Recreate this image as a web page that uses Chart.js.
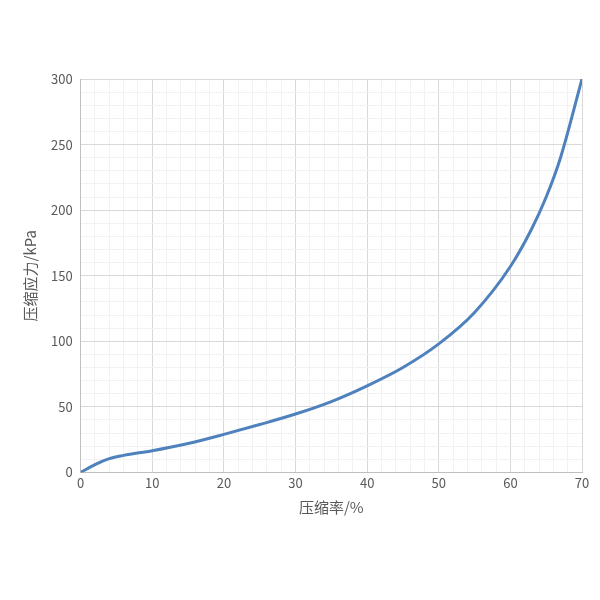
<!DOCTYPE html><html><head><meta charset="utf-8"><script src="https://cdn.jsdelivr.net/npm/chart.js@4"></script>
<style>body{margin:0;background:#fff}#w{position:absolute;left:0;top:0;width:600px;height:600px}</style></head><body><div id="w"><canvas id="c"></canvas></div>
<script>
const xValues=[0,2,4,6,10,15,20,25,30,35,40,45,50,55,60,63,65,67,70];
const yValues=[0,6,10.5,13,16.5,22,29,36.5,44.5,54,66,80,98,122,157,186,210,240,300];
const xTitle='压缩率/%';
const yTitle='压缩应力/kPa';
const font='"Noto Sans CJK SC", "Liberation Sans", sans-serif';
new Chart(document.getElementById('c'),{type:'line',
data:{datasets:[{data:xValues.map((x,i)=>({x,y:yValues[i]})),borderColor:'#4f81bd',borderWidth:3,pointRadius:0,tension:0.4,cubicInterpolationMode:'monotone',fill:false}]},
options:{responsive:true,maintainAspectRatio:false,animation:false,
layout:{padding:{left:17,right:18,top:79,bottom:80}},
plugins:{legend:{display:false},tooltip:{enabled:false}},
scales:{
x:{type:'linear',min:0,max:70,ticks:{stepSize:2,autoSkip:false,maxRotation:0,color:'#595959',font:{family:font,size:13},callback:v=>v%10===0?v:''},
grid:{color:c=>c.tick.value%10===0?'#d9d9d9':'#f2f2f2',drawTicks:false},border:{color:'#bfbfbf'},
title:{display:true,text:xTitle,color:'#595959',font:{family:font,size:15}}},
y:{min:0,max:300,ticks:{stepSize:10,autoSkip:false,padding:8,color:'#595959',font:{family:font,size:13},callback:v=>v%50===0?v:''},
grid:{color:c=>c.tick.value%50===0?'#d9d9d9':'#f2f2f2',drawTicks:false},border:{color:'#bfbfbf'},
title:{display:true,text:yTitle,color:'#595959',font:{family:font,size:15}}}}}});
</script></body></html>
